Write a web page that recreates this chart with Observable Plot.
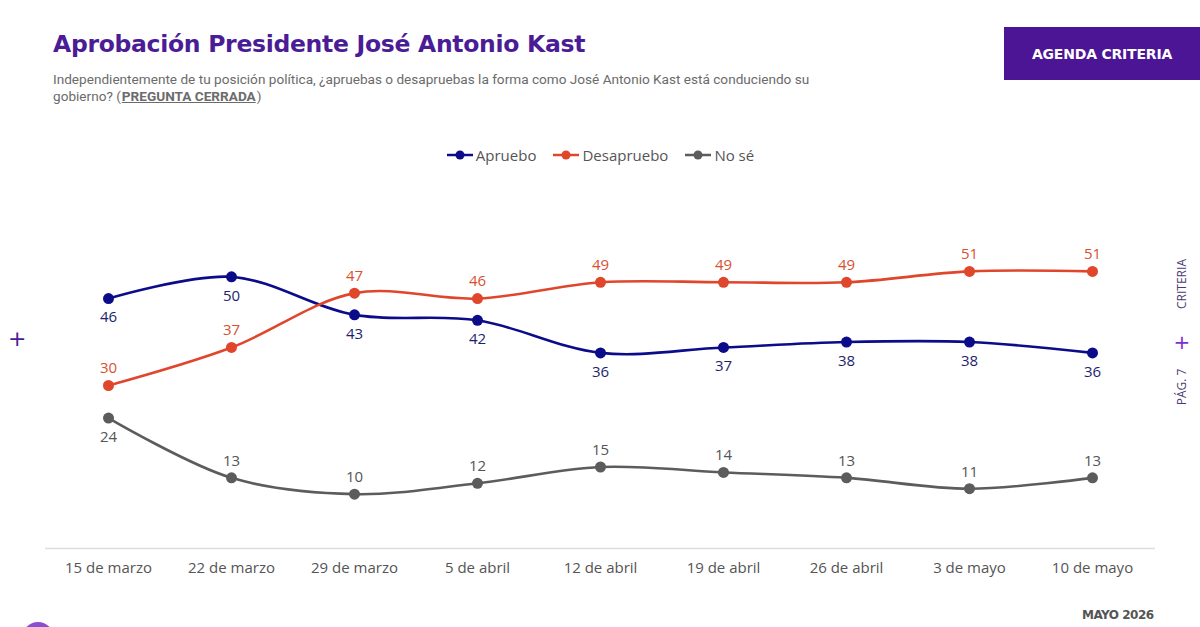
<!DOCTYPE html>
<html>
<head>
<meta charset="utf-8">
<script src="https://cdn.jsdelivr.net/npm/d3@7"></script>
<script src="https://cdn.jsdelivr.net/npm/@observablehq/plot@0.6"></script>
<style>
  html, body { margin: 0; padding: 0; background: #ffffff; }
  body { width: 1200px; height: 627px; position: relative; overflow: hidden; font-family: "DejaVu Sans", sans-serif; }
  #title { position: absolute; left: 53px; top: 30px; font-size: 23.5px; font-weight: bold; color: #4a1c96; letter-spacing: -0.3px; }
  #subtitle { position: absolute; left: 53px; top: 71px; width: 820px; font-family: Roboto, sans-serif; font-size: 13.6px; line-height: 16.5px; letter-spacing: 0px; color: #6b6b6b; }
  #subtitle div { white-space: nowrap; }
  #subtitle b { text-decoration: underline; font-weight: bold; color: #6b6b6b; display: inline-block; margin: 0 1px; }
  #badge { position: absolute; left: 1004px; top: 27px; width: 196px; height: 53px; background: #4b1596; color: #fff; font-family: "DejaVu Sans", sans-serif; font-weight: bold; font-size: 14px; display: flex; align-items: center; justify-content: center; letter-spacing: -0.2px; }
  #legend { position: absolute; left: 0; top: 145px; width: 1200px; display: flex; justify-content: center; gap: 16px; font-family: "Open Sans", sans-serif; font-size: 15px; color: #555; }
  #legend span { display: inline-flex; align-items: center; gap: 2px; }
  #chart { position: absolute; left: 0; top: 200px; }
  #plus-left { position: absolute; left: 8px; top: 326px; font-size: 22px; color: #4a1c96; font-family: "DejaVu Sans", sans-serif; }
  #side { position: absolute; left: 1170px; top: 250px; width: 24px; height: 170px; }
  #footer { position: absolute; left: 1082px; top: 608px; font-family: "DejaVu Sans", sans-serif; font-weight: bold; font-size: 12px; color: #555; letter-spacing: -0.5px; }
  #circle { position: absolute; left: 22px; top: 622px; width: 32px; height: 32px; border-radius: 50%; background: #8a4fcf; }
</style>
</head>
<body>
<div id="title">Aprobación Presidente José Antonio Kast</div>
<div id="subtitle">
  <div>Independientemente de tu posición política, ¿apruebas o desapruebas la forma como José Antonio Kast está conduciendo su</div>
  <div><span>gobierno? (</span><b>PREGUNTA CERRADA</b><span>)</span></div>
</div>
<div id="badge">AGENDA CRITERIA</div>
<div id="legend"></div>
<div id="chart"></div>
<div id="plus-left">+</div>
<svg id="side" width="24" height="170">
  <text transform="translate(16,34) rotate(-90)" text-anchor="middle" font-family="Open Sans, sans-serif" font-size="12" fill="#4d3a73">CRITERIA</text>
  <text x="12" y="99" text-anchor="middle" font-family="DejaVu Sans, sans-serif" font-size="20" fill="#7b2fd0">+</text>
  <text transform="translate(16,137) rotate(-90)" text-anchor="middle" font-family="Open Sans, sans-serif" font-size="12" fill="#4d3a73">PÁG. 7</text>
</svg>
<div id="footer">MAYO 2026</div>
<div id="circle"></div>
<script>
const fechas = ["15 de marzo", "22 de marzo", "29 de marzo", "5 de abril", "12 de abril", "19 de abril", "26 de abril", "3 de mayo", "10 de mayo"];
const apruebo = [46, 50, 43, 42, 36, 37, 38, 38, 36];
const desapruebo = [30, 37, 47, 46, 49, 49, 49, 51, 51];
const noSe = [24, 13, 10, 12, 15, 14, 13, 11, 13];

const series = [
  {name: "Apruebo", values: apruebo, color: "#0c0c8a", label: "#1e1e6e"},
  {name: "Desapruebo", values: desapruebo, color: "#e0462b", label: "#d9502f"},
  {name: "No sé", values: noSe, color: "#5c5c5c", label: "#555555"}
];

const data = series.flatMap(s => s.values.map((v, i) => ({serie: s.name, fecha: fechas[i], valor: v, i})));

// label placement: Apruebo below, Desapruebo above, No sé above except first below
const below = d => d.serie === "Apruebo" || (d.serie === "No sé" && d.i === 0);

// legend
const legend = document.getElementById("legend");
series.forEach(s => {
  const span = document.createElement("span");
  span.innerHTML = `<svg width="28" height="12"><line x1="1" y1="6" x2="27" y2="6" stroke="${s.color}" stroke-width="2.5"/><circle cx="14" cy="6" r="4.5" fill="${s.color}"/></svg>${s.name}`;
  legend.appendChild(span);
});

const colorScale = {domain: series.map(s => s.name), range: series.map(s => s.color)};

const chart = Plot.plot({
  width: 1200,
  height: 400,
  marginLeft: 45,
  marginRight: 45,
  marginTop: 22,
  marginBottom: 52,
  x: {type: "point", domain: fechas, padding: 0.5, label: null, tickSize: 0, tickPadding: 14},
  y: {domain: [0, 60], axis: null},
  color: colorScale,
  style: {fontFamily: "Open Sans, sans-serif", fontSize: "15px", color: "#555", background: "transparent"},
  marks: [
    Plot.ruleY([0], {stroke: "#dddddd", strokeWidth: 1.5}),
    Plot.line(data, {x: "fecha", y: "valor", z: "serie", stroke: "serie", strokeWidth: 2.6, curve: "catmull-rom"}),
    Plot.dot(data, {x: "fecha", y: "valor", fill: "serie", r: 5.5}),
    Plot.text(data.filter(below), {x: "fecha", y: "valor", text: "valor", dy: 19, fill: d => series.find(s => s.name === d.serie).label, fontSize: 15, fontWeight: 500}),
    Plot.text(data.filter(d => !below(d)), {x: "fecha", y: "valor", text: "valor", dy: -17, fill: d => series.find(s => s.name === d.serie).label, fontSize: 15, fontWeight: 500})
  ]
});
document.getElementById("chart").appendChild(chart);
</script>
</body>
</html>
